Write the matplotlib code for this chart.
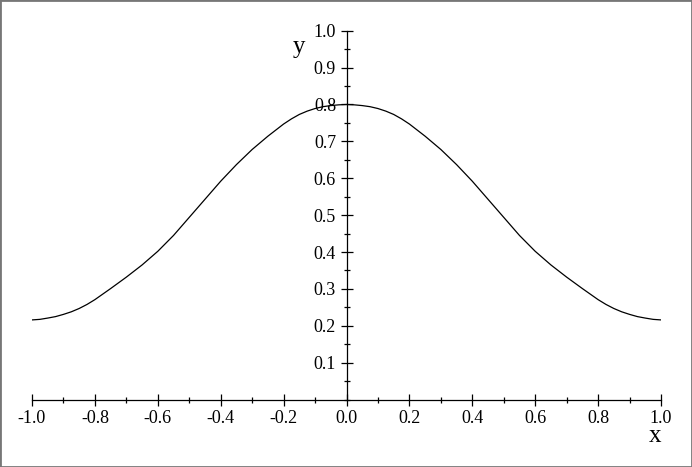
import matplotlib
matplotlib.use("Agg")
from matplotlib import pyplot as plt
from matplotlib.patches import Rectangle
from matplotlib.ticker import MultipleLocator, FormatStrFormatter

# values (curve is symmetric about x = 0)
x_vals = [-1.0, -0.975, -0.95, -0.925, -0.9, -0.875, -0.85, -0.825, -0.8,
          -0.75, -0.7, -0.65, -0.6, -0.55, -0.5, -0.45, -0.4, -0.35, -0.3,
          -0.25, -0.2, -0.175, -0.15, -0.125, -0.1, -0.075, -0.05, -0.025,
          0.0,
          0.025, 0.05, 0.075, 0.1, 0.125, 0.15, 0.175, 0.2, 0.25,
          0.3, 0.35, 0.4, 0.45, 0.5, 0.55, 0.6, 0.65, 0.7, 0.75,
          0.8, 0.825, 0.85, 0.875, 0.9, 0.925, 0.95, 0.975, 1.0]
y_vals = [0.216, 0.2175, 0.221, 0.225, 0.231, 0.238, 0.247, 0.258, 0.271,
          0.301, 0.332, 0.365, 0.402, 0.445, 0.494, 0.543, 0.592, 0.637, 0.678,
          0.714, 0.747, 0.761, 0.773, 0.782, 0.789, 0.794, 0.797, 0.799,
          0.800,
          0.799, 0.797, 0.794, 0.789, 0.782, 0.773, 0.761, 0.747, 0.714,
          0.678, 0.637, 0.592, 0.543, 0.494, 0.445, 0.402, 0.365, 0.332, 0.301,
          0.271, 0.258, 0.247, 0.238, 0.231, 0.225, 0.221, 0.2175, 0.216]

plt.rcParams['font.family'] = ['Liberation Serif', 'DejaVu Serif']

fig = plt.figure(figsize=(6.92, 4.67), dpi=100)
W, H = 692, 467
ax = fig.add_axes([32 / W, (H - 399.6) / H, 629 / W, 368.9 / H])

ax.plot(x_vals, y_vals, color='black', linewidth=0.9, solid_joinstyle='round')

ax.set_xlim(-1.0, 1.0)
ax.set_ylim(0.0, 1.0)

for s in ['top', 'right']:
    ax.spines[s].set_visible(False)
ax.spines['left'].set_position(('data', 0.0))
ax.spines['left'].set_bounds(0.0, 1.0)
ax.spines['bottom'].set_position(('data', 0.0))
ax.spines['left'].set_linewidth(0.9)
ax.spines['bottom'].set_linewidth(0.9)

ax.xaxis.set_major_locator(MultipleLocator(0.2))
ax.xaxis.set_minor_locator(MultipleLocator(0.1))
ax.xaxis.set_major_formatter(FormatStrFormatter('%.1f'))
ax.set_yticks([0.1, 0.2, 0.3, 0.4, 0.5, 0.6, 0.7, 0.8, 0.9, 1.0])
ax.yaxis.set_minor_locator(MultipleLocator(0.05))
ax.yaxis.set_major_formatter(FormatStrFormatter('%.1f'))

ax.tick_params(which='major', direction='inout', length=9, width=0.9,
               labelsize=13, pad=3)
ax.tick_params(which='minor', direction='inout', length=5, width=0.9)

ax.text(-0.15, 0.955, 'y', fontsize=18, ha='center', va='center')
ax.text(0.98, -0.1, 'x', fontsize=18, ha='center', va='center')

fig.patches.append(Rectangle((0, 0), 1, 1, transform=fig.transFigure,
                             fill=False, edgecolor='#777777', linewidth=2))

plt.savefig("out.png", dpi=100)
